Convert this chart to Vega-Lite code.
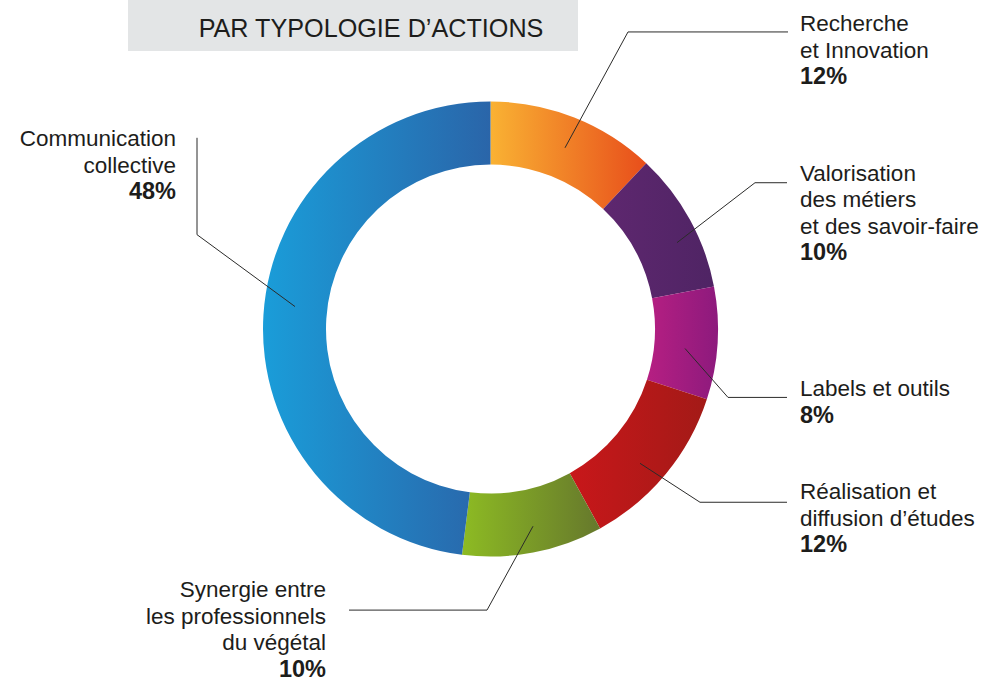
{
  "$schema": "https://vega.github.io/schema/vega-lite/v6.json",
  "width": 981,
  "height": 681,
  "autosize": {"type": "fit", "contains": "padding"},
  "padding": 0,
  "background": "#ffffff",
  "config": {"view": {"stroke": null}, "text": {"font": "Liberation Sans", "fontSize": 22.5, "color": "#1d1d1b"}},
  "datasets": {
    "segments": [
      {"cat": "Recherche et Innovation", "pct": 12, "o": 1},
      {"cat": "Valorisation des métiers et des savoir-faire", "pct": 10, "o": 2},
      {"cat": "Labels et outils", "pct": 8, "o": 3},
      {"cat": "Réalisation et diffusion d’études", "pct": 12, "o": 4},
      {"cat": "Synergie entre les professionnels du végétal", "pct": 10, "o": 5},
      {"cat": "Communication collective", "pct": 48, "o": 6}
    ],
    "box": [{"x1": 128, "x2": 578, "y1": 0, "y2": 51}],
    "title": [{"x": 371, "y": 37, "t": "PAR TYPOLOGIE D’ACTIONS"}],
    "leaders": [
      {"id": "Recherche", "s": 1, "x": 565, "y": 148},
      {"id": "Recherche", "s": 2, "x": 628, "y": 32},
      {"id": "Recherche", "s": 3, "x": 788, "y": 32},
      {"id": "Valorisation", "s": 1, "x": 677, "y": 243},
      {"id": "Valorisation", "s": 2, "x": 755, "y": 183},
      {"id": "Valorisation", "s": 3, "x": 787, "y": 183},
      {"id": "Labels", "s": 1, "x": 685, "y": 349},
      {"id": "Labels", "s": 2, "x": 728, "y": 398},
      {"id": "Labels", "s": 3, "x": 787, "y": 398},
      {"id": "Realisation", "s": 1, "x": 640, "y": 464},
      {"id": "Realisation", "s": 2, "x": 700, "y": 503},
      {"id": "Realisation", "s": 3, "x": 787, "y": 503},
      {"id": "Synergie", "s": 1, "x": 533, "y": 527},
      {"id": "Synergie", "s": 2, "x": 487, "y": 611},
      {"id": "Synergie", "s": 3, "x": 349, "y": 611},
      {"id": "Communication", "s": 1, "x": 295, "y": 307},
      {"id": "Communication", "s": 2, "x": 197, "y": 235},
      {"id": "Communication", "s": 3, "x": 197, "y": 138}
    ],
    "labels": [
      {"side": "R", "bold": false, "x": 800, "y": 31.5, "t": "Recherche"},
      {"side": "R", "bold": false, "x": 800, "y": 58, "t": "et Innovation"},
      {"side": "R", "bold": true, "x": 800, "y": 84.5, "t": "12%"},
      {"side": "R", "bold": false, "x": 800, "y": 181, "t": "Valorisation"},
      {"side": "R", "bold": false, "x": 800, "y": 207.5, "t": "des métiers"},
      {"side": "R", "bold": false, "x": 800, "y": 234, "t": "et des savoir-faire"},
      {"side": "R", "bold": true, "x": 800, "y": 260.5, "t": "10%"},
      {"side": "R", "bold": false, "x": 800, "y": 397, "t": "Labels et outils"},
      {"side": "R", "bold": true, "x": 800, "y": 423.5, "t": "8%"},
      {"side": "R", "bold": false, "x": 800, "y": 500, "t": "Réalisation et"},
      {"side": "R", "bold": false, "x": 800, "y": 526.5, "t": "diffusion d’études"},
      {"side": "R", "bold": true, "x": 800, "y": 553, "t": "12%"},
      {"side": "L", "bold": false, "x": 176, "y": 146.5, "t": "Communication"},
      {"side": "L", "bold": false, "x": 176, "y": 173, "t": "collective"},
      {"side": "L", "bold": true, "x": 176, "y": 199.5, "t": "48%"},
      {"side": "L", "bold": false, "x": 326, "y": 598, "t": "Synergie entre"},
      {"side": "L", "bold": false, "x": 326, "y": 624.5, "t": "les professionnels"},
      {"side": "L", "bold": false, "x": 326, "y": 651, "t": "du végétal"},
      {"side": "L", "bold": true, "x": 326, "y": 677.5, "t": "10%"}
    ]
  },
  "encoding": {
    "x": {"type": "quantitative", "scale": {"domain": [0, 981], "nice": false, "zero": false}, "axis": null},
    "y": {"type": "quantitative", "scale": {"domain": [0, 681], "nice": false, "zero": false, "reverse": true}, "axis": null}
  },
  "layer": [
    {
      "data": {"name": "box"},
      "mark": {"type": "rect", "color": "#e3e5e6"},
      "encoding": {"x": {"field": "x1"}, "x2": {"field": "x2"}, "y": {"field": "y1"}, "y2": {"field": "y2"}}
    },
    {
      "data": {"name": "title"},
      "mark": {"type": "text", "fontSize": 25.2, "align": "center", "baseline": "alphabetic", "color": "#1d1d1b"},
      "encoding": {"x": {"field": "x"}, "y": {"field": "y"}, "text": {"field": "t"}}
    },
    {
      "data": {"name": "segments"},
      "transform": [{"stack": "pct", "groupby": [], "sort": [{"field": "o"}], "as": ["s0", "s1"]}, {"filter": "datum.o == 1"}],
      "mark": {"type": "arc", "radius": 227.5, "radius2": 164.5, "fill": {"gradient": "linear", "x1": 0, "y1": 0, "x2": 1, "y2": 0, "stops": [{"offset": 0, "color": "#f9b233"}, {"offset": 1, "color": "#e84e1b"}]}},
      "encoding": {"x": {"datum": 490.5}, "y": {"datum": 329.5}, "theta": {"field": "s0", "type": "quantitative", "scale": {"domain": [0, 100]}}, "theta2": {"field": "s1"}}
    },
    {
      "data": {"name": "segments"},
      "transform": [{"stack": "pct", "groupby": [], "sort": [{"field": "o"}], "as": ["s0", "s1"]}, {"filter": "datum.o == 2"}],
      "mark": {"type": "arc", "radius": 227.5, "radius2": 164.5, "fill": {"gradient": "linear", "x1": 0, "y1": 0, "x2": 1, "y2": 0, "stops": [{"offset": 0, "color": "#5e276f"}, {"offset": 1, "color": "#4f2464"}]}},
      "encoding": {"x": {"datum": 490.5}, "y": {"datum": 329.5}, "theta": {"field": "s0", "type": "quantitative", "scale": {"domain": [0, 100]}}, "theta2": {"field": "s1"}}
    },
    {
      "data": {"name": "segments"},
      "transform": [{"stack": "pct", "groupby": [], "sort": [{"field": "o"}], "as": ["s0", "s1"]}, {"filter": "datum.o == 3"}],
      "mark": {"type": "arc", "radius": 227.5, "radius2": 164.5, "fill": {"gradient": "linear", "x1": 0, "y1": 0, "x2": 1, "y2": 0, "stops": [{"offset": 0, "color": "#b61f82"}, {"offset": 1, "color": "#8d1a7d"}]}},
      "encoding": {"x": {"datum": 490.5}, "y": {"datum": 329.5}, "theta": {"field": "s0", "type": "quantitative", "scale": {"domain": [0, 100]}}, "theta2": {"field": "s1"}}
    },
    {
      "data": {"name": "segments"},
      "transform": [{"stack": "pct", "groupby": [], "sort": [{"field": "o"}], "as": ["s0", "s1"]}, {"filter": "datum.o == 4"}],
      "mark": {"type": "arc", "radius": 227.5, "radius2": 164.5, "fill": {"gradient": "linear", "x1": 0, "y1": 0, "x2": 1, "y2": 0, "stops": [{"offset": 0, "color": "#c8171a"}, {"offset": 1, "color": "#a31a17"}]}},
      "encoding": {"x": {"datum": 490.5}, "y": {"datum": 329.5}, "theta": {"field": "s0", "type": "quantitative", "scale": {"domain": [0, 100]}}, "theta2": {"field": "s1"}}
    },
    {
      "data": {"name": "segments"},
      "transform": [{"stack": "pct", "groupby": [], "sort": [{"field": "o"}], "as": ["s0", "s1"]}, {"filter": "datum.o == 5"}],
      "mark": {"type": "arc", "radius": 227.5, "radius2": 164.5, "fill": {"gradient": "linear", "x1": 0, "y1": 0, "x2": 1, "y2": 0, "stops": [{"offset": 0, "color": "#8dbb23"}, {"offset": 1, "color": "#66782c"}]}},
      "encoding": {"x": {"datum": 490.5}, "y": {"datum": 329.5}, "theta": {"field": "s0", "type": "quantitative", "scale": {"domain": [0, 100]}}, "theta2": {"field": "s1"}}
    },
    {
      "data": {"name": "segments"},
      "transform": [{"stack": "pct", "groupby": [], "sort": [{"field": "o"}], "as": ["s0", "s1"]}, {"filter": "datum.o == 6"}],
      "mark": {"type": "arc", "radius": 227.5, "radius2": 164.5, "fill": {"gradient": "linear", "x1": 0, "y1": 0, "x2": 1, "y2": 0, "stops": [{"offset": 0, "color": "#1a9dd9"}, {"offset": 1, "color": "#2a65a9"}]}},
      "encoding": {"x": {"datum": 490.5}, "y": {"datum": 329.5}, "theta": {"field": "s0", "type": "quantitative", "scale": {"domain": [0, 100]}}, "theta2": {"field": "s1"}}
    },
    {
      "data": {"name": "leaders"},
      "mark": {"type": "line", "color": "#2b2b2a", "strokeWidth": 1, "interpolate": "linear"},
      "encoding": {"x": {"field": "x"}, "y": {"field": "y"}, "detail": {"field": "id"}, "order": {"field": "s"}}
    },
    {
      "data": {"name": "labels"},
      "transform": [{"filter": "datum.side == 'R' && !datum.bold"}],
      "mark": {"type": "text", "align": "left", "baseline": "alphabetic"},
      "encoding": {"x": {"field": "x"}, "y": {"field": "y"}, "text": {"field": "t"}}
    },
    {
      "data": {"name": "labels"},
      "transform": [{"filter": "datum.side == 'R' && datum.bold"}],
      "mark": {"type": "text", "align": "left", "baseline": "alphabetic", "fontWeight": "bold", "fontSize": 23.5},
      "encoding": {"x": {"field": "x"}, "y": {"field": "y"}, "text": {"field": "t"}}
    },
    {
      "data": {"name": "labels"},
      "transform": [{"filter": "datum.side == 'L' && !datum.bold"}],
      "mark": {"type": "text", "align": "right", "baseline": "alphabetic"},
      "encoding": {"x": {"field": "x"}, "y": {"field": "y"}, "text": {"field": "t"}}
    },
    {
      "data": {"name": "labels"},
      "transform": [{"filter": "datum.side == 'L' && datum.bold"}],
      "mark": {"type": "text", "align": "right", "baseline": "alphabetic", "fontWeight": "bold", "fontSize": 23.5},
      "encoding": {"x": {"field": "x"}, "y": {"field": "y"}, "text": {"field": "t"}}
    }
  ]
}
